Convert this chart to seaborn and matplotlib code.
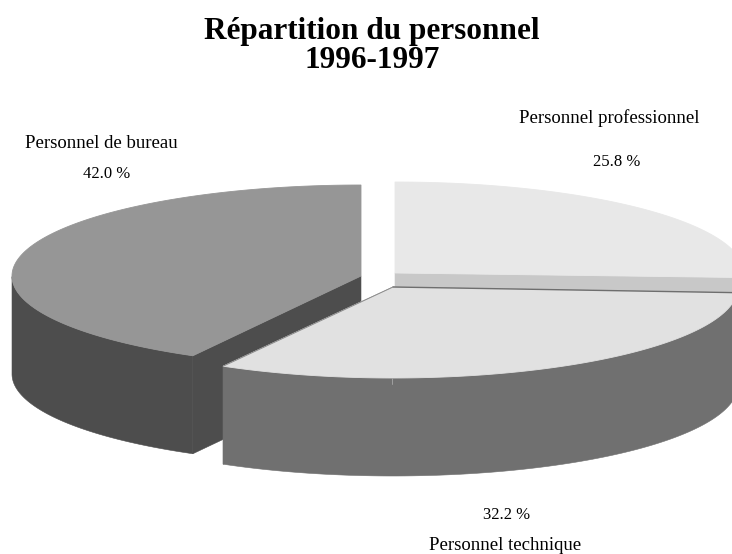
#camembert 3D de la répartition du personnel
import numpy as np
import pandas as pd
import matplotlib
matplotlib.use("Agg")
import matplotlib.pyplot as plt
import seaborn as sns

categories = ["Personnel professionnel", "Personnel technique", "Personnel de bureau"]
valeurs = [25.8, 32.2, 42.0]
pourcentages = ["25.8 %", "32.2 %", "42.0 %"]
titre = "Répartition du personnel\n1996-1997"

#couleurs et position de chaque part (sommet, rayons, petit décalage d'angle)
couleur_dessus = ["#e8e8e8", "#e1e1e1", "#969696"]
couleur_flanc = ["#717171", "#707070", "#4d4d4d"]
couleur_coupe = ["#c8c8c8", "#707070", "#4d4d4d"]
sommet_x = [395, 393, 361]
sommet_y = [273, 287, 276]
rayon_x = [349, 345, 349]
rayon_y = 91
profondeur = 98
decalage = [0.0, 0.7, 0.0]

sns.set_theme(style="white")
plt.rcParams["font.family"] = ["Liberation Serif", "DejaVu Serif"]

df = pd.DataFrame({"categorie": categories, "valeur": valeurs, "etiquette": pourcentages})
df["fin"] = df["valeur"].cumsum() / df["valeur"].sum() * 360
df["debut"] = df["fin"].shift(1, fill_value=0.0)

fig = plt.figure(figsize=(7.32, 5.54), dpi=100)
ax = fig.add_axes([0, 0, 1, 1])
ax.set_xlim(0, 732)
ax.set_ylim(554, 0)
ax.axis("off")


def arc(i, a, b):
    t = np.radians(np.linspace(a + decalage[i], b + decalage[i], 200))
    return sommet_x[i] + rayon_x[i] * np.sin(t), sommet_y[i] - rayon_y * np.cos(t)


def part(i, z):
    cx, cy = sommet_x[i], sommet_y[i]
    a, b = df["debut"][i], df["fin"][i]
    x, y = arc(i, a, b)

    #faces de coupe (pas celles qui sont vues de profil)
    for px, py in [(x[0], y[0]), (x[-1], y[-1])]:
        if abs(px - cx) > 1:
            ax.fill([cx, px, px, cx], [cy, py, py + profondeur, cy + profondeur],
                    color=couleur_coupe[i], lw=0.4, zorder=z)

    #flanc extérieur, seulement la moitié avant
    t = np.linspace(a + decalage[i], b + decalage[i], 200)
    avant = (t >= 90) & (t <= 270)
    if avant.any():
        ax.fill(np.r_[x[avant], x[avant][::-1]],
                np.r_[y[avant], y[avant][::-1] + profondeur],
                color=couleur_flanc[i], lw=0.4, zorder=z + 0.1)

    #dessus
    ax.fill(np.r_[cx, x], np.r_[cy, y], color=couleur_dessus[i], lw=0.6, zorder=z + 0.2)


#ordre: pro, bureau, technique (devant)
part(0, 1)
part(2, 2)
part(1, 3)

#filets sombres le long du bord de la part technique
x, y = arc(1, df["debut"][1], df["fin"][1])
ax.plot([sommet_x[1], x[0]], [sommet_y[1], y[0]], color="#6e6e6e", lw=1.0, zorder=4)
ax.plot([sommet_x[1], x[-1]], [sommet_y[1], y[-1]], color="#8a8a8a", lw=0.7, zorder=4)
ax.plot([392, 392], [sommet_y[1] + rayon_y, sommet_y[1] + rayon_y + 6], color="#a8a8a8", lw=0.6, zorder=4)

ax.text(372, 46, titre, ha="center", va="center", fontsize=22.5, fontweight="bold",
        color="black", linespacing=1.0)

ax.text(609, 118, categories[0], ha="center", va="center", fontsize=13.5, color="black")
ax.text(617, 162, pourcentages[0], ha="center", va="center", fontsize=12, color="black")
ax.text(101, 143, categories[2], ha="center", va="center", fontsize=13.5, color="black")
ax.text(107, 174, pourcentages[2], ha="center", va="center", fontsize=12, color="black")
ax.text(507, 515, pourcentages[1], ha="center", va="center", fontsize=12, color="black")
ax.text(505, 545, categories[1], ha="center", va="center", fontsize=13.5, color="black")

fig.savefig("out.png", dpi=100)
